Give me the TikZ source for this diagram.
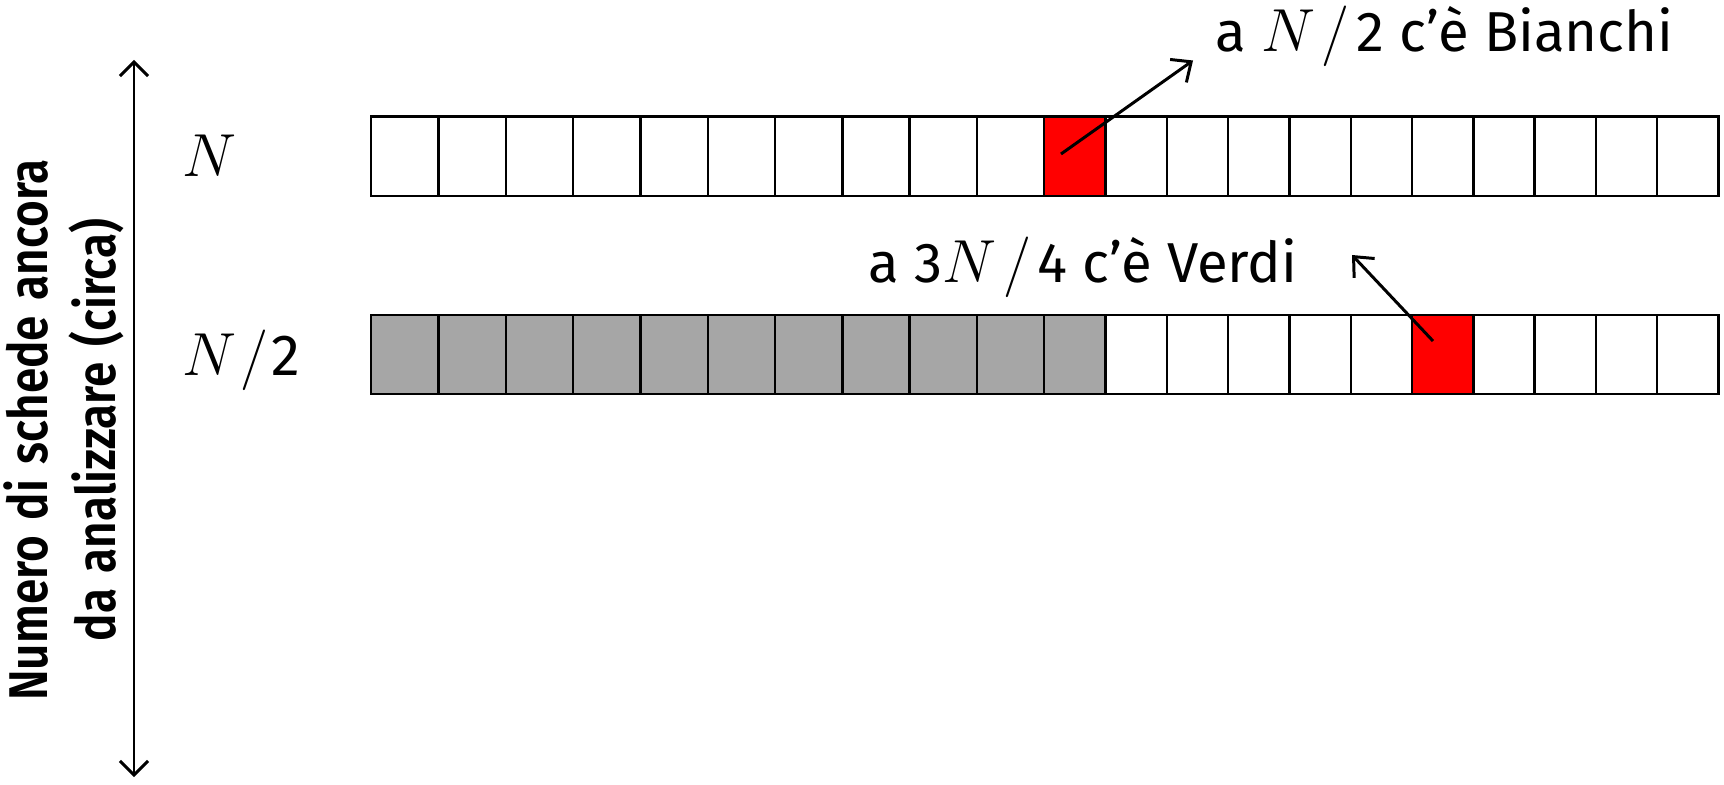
\documentclass[tikz,border=0pt]{standalone}
\usepackage{fontspec}
\setmainfont{Fira Sans}
\newfontfamily\digfont{Fira Sans}
\newfontfamily\lblfont{Fira Sans SemiBold}[Scale=0.97,FakeStretch=0.84,WordSpace=1.4]
\usetikzlibrary{arrows.meta}
\definecolor{cellgray}{RGB}{166,166,166}
\newcommand{\dg}[1]{\mbox{\digfont #1}}
\newcommand{\myslash}{\mkern2mu/\mkern2mu}
\newcommand{\myslashb}{\mkern1mu/\mkern1mu}
\begin{document}
\begin{tikzpicture}[x=0.01cm,y=-0.01cm,
  txt/.style={font=\fontsize{16pt}{19pt}\selectfont, inner sep=0pt},
  rowlab/.style={font=\fontsize{16.5pt}{20pt}\selectfont, inner sep=0pt, anchor=base west},
  cellbox/.style={draw=black, line width=0.7pt, inner sep=0pt, minimum height=0.79cm, anchor=north west},
  ptr/.style={line width=0.85pt, -{Straight Barb[length=4.5pt,width=8pt]}},
  dptr/.style={line width=0.85pt, {Straight Barb[length=4pt,width=8pt]}-{Straight Barb[length=4pt,width=8pt]}}]
\useasboundingbox (0,0) rectangle (1724,785);
% vertical axis
\coordinate (ytop) at (134,60);
\coordinate (ybot) at (134,777);
\draw[dptr] (ytop) -- (ybot);
\node[inner sep=0pt, font=\lblfont\fontsize{16pt}{19.3pt}\selectfont, rotate=90, align=center, anchor=base] (ylab) at (115,430)
  {Numero di schede ancora\\da analizzare (circa)};
% row labels
\node[rowlab] (lN) at (182,177) {$N$};
\node[rowlab] (lN2) at (182,375) {$N\myslashb\dg{2}$};
% cells
\foreach \i in {1,...,21} {
  \ifnum\i<11
    \pgfmathsetmacro\cx{370+67.3*(\i-1)}\def\cw{0.673cm}
  \else
    \pgfmathsetmacro\cx{1043+61.3*(\i-11)}\def\cw{0.613cm}
  \fi
  \def\fa{white}\ifnum\i=11 \def\fa{red}\fi
  \def\fb{white}\ifnum\i<12 \def\fb{cellgray}\fi\ifnum\i=17 \def\fb{red}\fi
  \node[cellbox, minimum width=\cw, fill=\fa] (r1c\i) at (\cx,115.5) {};
  \node[cellbox, minimum width=\cw, fill=\fb] (r2c\i) at (\cx,313.5) {};
}
% annotations
\node[txt, anchor=base west] (tb) at (1215,51.7) {a $N\myslash\dg{2}$ c’è Bianchi};
\node[txt, anchor=base west] (tv) at (868,283) {a $\dg{3}N\myslash\dg{4}$ c’è Verdi};
\coordinate (s1) at (1061,154);
\coordinate (t1) at (1193,60.5);
\coordinate (s2) at (1433,341);
\coordinate (t2) at (1352,255);
\draw[ptr] (s1) -- (t1);
\draw[ptr] (s2) -- (t2);
\end{tikzpicture}
\end{document}
